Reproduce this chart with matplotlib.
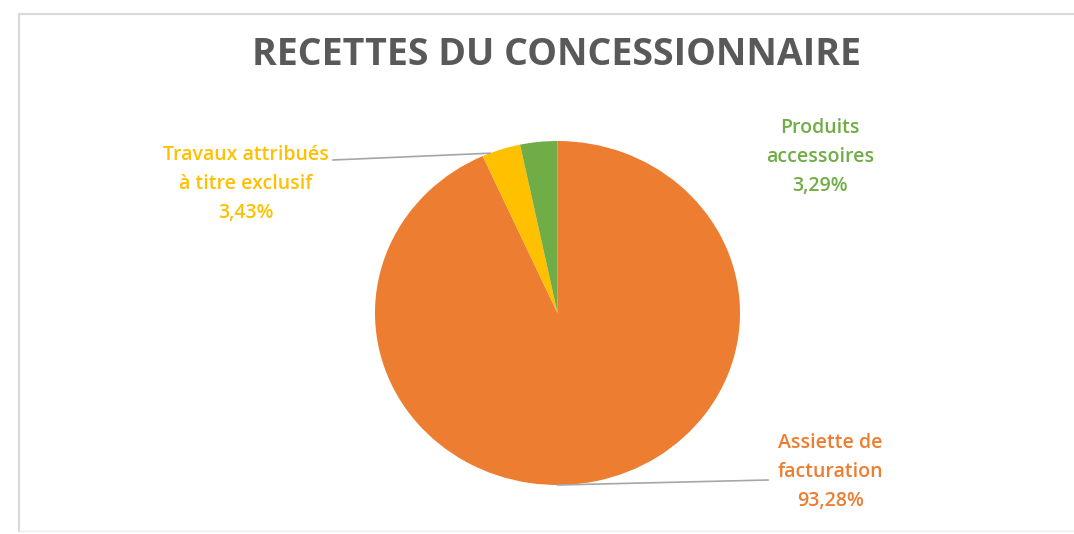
import numpy as np
import matplotlib.pyplot as plt

# data
labels = ['Assiette de\nfacturation', 'Travaux attribués\nà titre exclusif', 'Produits\naccessoires']
values = [93.28, 3.43, 3.29]
pct_text = ['93,28%', '3,43%', '3,29%']
colors = ['#ED7D31', '#FFC000', '#70AD47']

W, H = 1074, 534
fig = plt.figure(figsize=(W / 100, H / 100), dpi=100)
fig.patch.set_facecolor('white')

# pie geometry in pixels
cx, cy, rx, ry = 557.5, 313, 182.5, 172

ax = fig.add_axes([0, 0, 1, 1])
ax.pie(values, colors=colors, startangle=90, counterclock=False,
       radius=1, center=(0, 0), wedgeprops=dict(linewidth=0))
ax.set_aspect('auto')
ax.set_xlim(-cx / rx, (W - cx) / rx)
ax.set_ylim(-(H - cy) / ry, cy / ry)
ax.axis('off')

def px(x, y):
    # pixel (top-left origin) -> data coords
    return ((x - cx) / rx, (cy - y) / ry)

# chart border
ax.plot(*zip(px(19, 14), px(W, 14)), color='#d9d9d9', lw=1.5, clip_on=False)
ax.plot(*zip(px(19, 14), px(19, 531)), color='#d9d9d9', lw=1.5, clip_on=False)
ax.plot(*zip(px(19, 531), px(W, 531)), color='#eeeeee', lw=1, clip_on=False)

font = 'Open Sans'
ax.text(*px(557, 55), 'RECETTES DU CONCESSIONNAIRE', ha='center', va='center',
        fontsize=27, fontweight='bold', color='#595959', family=font)

cum = np.cumsum([0] + values)

# leader lines
a_trav = np.deg2rad(90 - (cum[1] + values[1] * 0.2) * 3.6)
ex, ey = np.cos(a_trav), np.sin(a_trav)
ax.plot([px(333, 160)[0], ex], [px(333, 160)[1], ey], color='#a6a6a6', lw=1.2)
ax.plot([0, px(768, 480)[0]], [-1, px(768, 480)[1]], color='#a6a6a6', lw=1.2)

label_pos = [(830, 472), (246, 184), (820, 157)]
for lab, p, c, (x, y) in zip(labels, pct_text, colors, label_pos):
    ax.text(*px(x, y), lab + '\n' + p, ha='center', va='center', color=c,
            fontsize=14, fontweight='semibold', family=font, linespacing=1.6)

fig.savefig('out.png', dpi=100, facecolor='white')
